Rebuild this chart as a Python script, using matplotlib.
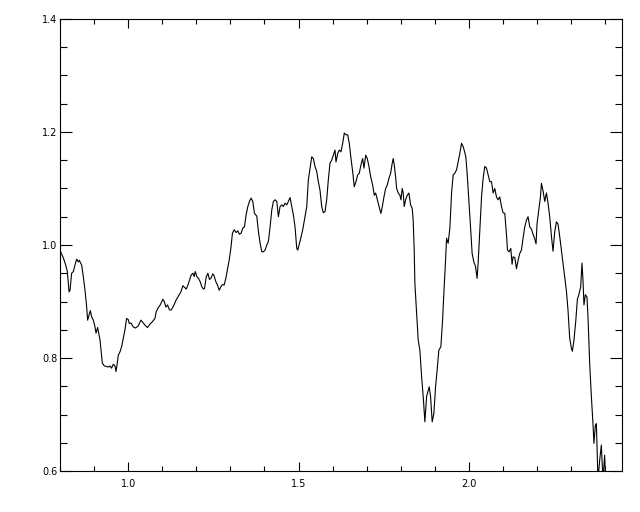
import matplotlib
matplotlib.use("Agg")
import matplotlib.pyplot as plt
from matplotlib.ticker import MultipleLocator

# spectrum
wavelength = [
    0.8000, 0.8094, 0.8161, 0.8211, 0.8261, 0.8290, 0.8337, 0.8387, 0.8437, 0.8484,
    0.8534, 0.8563, 0.8601, 0.8630, 0.8680, 0.8730, 0.8777, 0.8806, 0.8848, 0.8886,
    0.8924, 0.8974, 0.9023, 0.9053, 0.9100, 0.9141, 0.9170, 0.9199, 0.9238, 0.9296,
    0.9364, 0.9413, 0.9463, 0.9510, 0.9560, 0.9610, 0.9639, 0.9677, 0.9707, 0.9757,
    0.9804, 0.9853, 0.9903, 0.9950, 1.0000, 1.0029, 1.0079, 1.0147, 1.0214, 1.0293,
    1.0372, 1.0440, 1.0507, 1.0566, 1.0636, 1.0704, 1.0783,
    1.0821, 1.0889, 1.0938, 1.1018, 1.1056, 1.1106, 1.1153, 1.1211, 1.1261, 1.1328,
    1.1408, 1.1475, 1.1545, 1.1604, 1.1651, 1.1701, 1.1751, 1.1798, 1.1848, 1.1897,
    1.1935, 1.1965, 1.2015, 1.2062, 1.2111, 1.2161, 1.2208, 1.2238, 1.2287, 1.2337,
    1.2384, 1.2425, 1.2484, 1.2522, 1.2572, 1.2619, 1.2669, 1.2718, 1.2765, 1.2815,
    1.2865, 1.2912, 1.2962, 1.3012, 1.3059, 1.3109, 1.3167, 1.3217, 1.3264, 1.3314,
    1.3364, 1.3411, 1.3460, 1.3510, 1.3557, 1.3607, 1.3657, 1.3704, 1.3774, 1.3821,
    1.3871, 1.3921, 1.3968, 1.4018, 1.4067, 1.4114, 1.4164, 1.4214, 1.4261, 1.4311,
    1.4361, 1.4408, 1.4457, 1.4507, 1.4554, 1.4604, 1.4654, 1.4701, 1.4751, 1.4801,
    1.4848, 1.4897, 1.4947, 1.4977, 1.5015, 1.5065, 1.5123, 1.5191, 1.5241, 1.5287,
    1.5337, 1.5387, 1.5434, 1.5484, 1.5534, 1.5581, 1.5630, 1.5680, 1.5727, 1.5777,
    1.5827, 1.5874, 1.5924, 1.5974, 1.6021, 1.6070, 1.6100, 1.6150, 1.6197, 1.6246,
    1.6296, 1.6343, 1.6393, 1.6443, 1.6490, 1.6540, 1.6589, 1.6636, 1.6686, 1.6736,
    1.6783, 1.6833, 1.6883, 1.6921, 1.6971, 1.7018, 1.7067, 1.7117, 1.7176, 1.7223,
    1.7264, 1.7293, 1.7340, 1.7390, 1.7419, 1.7469, 1.7507, 1.7557, 1.7604, 1.7654,
    1.7704, 1.7751, 1.7780, 1.7809, 1.7850, 1.7880, 1.7927, 1.7977, 1.8006, 1.8044,
    1.8073, 1.8103, 1.8144, 1.8191, 1.8240, 1.8290, 1.8337, 1.8366, 1.8396, 1.8416,
    1.8466, 1.8513, 1.8563, 1.8613, 1.8660, 1.8710, 1.8760, 1.8807, 1.8836, 1.8877,
    1.8924, 1.8974, 1.9023, 1.9070, 1.9120, 1.9179, 1.9229, 1.9276, 1.9317, 1.9346,
    1.9393, 1.9443, 1.9493, 1.9540, 1.9589, 1.9639, 1.9686, 1.9736, 1.9786, 1.9833,
    1.9862, 1.9912, 1.9950, 2.0000, 2.0050, 2.0097, 2.0147, 2.0196, 2.0243, 2.0273,
    2.0323, 2.0373, 2.0420, 2.0469, 2.0519, 2.0566, 2.0616, 2.0666, 2.0713, 2.0762,
    2.0812, 2.0859, 2.0909, 2.0959, 2.1006, 2.1056, 2.1106, 2.1135, 2.1182, 2.1232,
    2.1270, 2.1299, 2.1349, 2.1399, 2.1446, 2.1496, 2.1545, 2.1592, 2.1642, 2.1692,
    2.1739, 2.1789, 2.1839, 2.1886, 2.1935, 2.1974, 2.2003, 2.2053, 2.2103, 2.2132,
    2.2179, 2.2229, 2.2279, 2.2326, 2.2375, 2.2425, 2.2472, 2.2522, 2.2572, 2.2619,
    2.2669, 2.2718, 2.2765, 2.2815, 2.2865, 2.2912, 2.2962, 2.3012, 2.3041, 2.3088,
    2.3138, 2.3188, 2.3235, 2.3284, 2.3323, 2.3352, 2.3381, 2.3422, 2.3469, 2.3499,
    2.3548, 2.3598, 2.3645, 2.3674, 2.3715, 2.3745, 2.3792, 2.3842, 2.3891, 2.3938,
    2.3988, 2.4018,
]
flux = [
    0.990, 0.977, 0.965, 0.953, 0.917, 0.920, 0.950, 0.953, 0.965, 0.975,
    0.970, 0.973, 0.968, 0.965, 0.944, 0.920, 0.891, 0.867, 0.876, 0.884,
    0.873, 0.867, 0.855, 0.844, 0.854, 0.841, 0.832, 0.814, 0.791, 0.786,
    0.785, 0.784, 0.786, 0.782, 0.789, 0.786, 0.776, 0.791, 0.805, 0.811,
    0.820, 0.835, 0.850, 0.870, 0.868, 0.861, 0.862, 0.855, 0.853, 0.857,
    0.867, 0.862, 0.857, 0.854, 0.860, 0.864, 0.870,
    0.882, 0.890, 0.894, 0.904, 0.900, 0.890, 0.894, 0.885, 0.885, 0.892,
    0.903, 0.910, 0.917, 0.928, 0.925, 0.922, 0.929, 0.938, 0.947, 0.950,
    0.944, 0.953, 0.944, 0.941, 0.935, 0.926, 0.922, 0.923, 0.943, 0.950,
    0.939, 0.941, 0.949, 0.945, 0.935, 0.929, 0.920, 0.926, 0.930, 0.929,
    0.941, 0.956, 0.973, 0.994, 1.021, 1.027, 1.022, 1.025, 1.019, 1.021,
    1.030, 1.032, 1.053, 1.068, 1.077, 1.083, 1.077, 1.056, 1.051, 1.024,
    1.003, 0.988, 0.988, 0.991, 1.000, 1.006, 1.032, 1.062, 1.077, 1.080,
    1.077, 1.050, 1.068, 1.071, 1.068, 1.074, 1.071, 1.077, 1.084, 1.068,
    1.053, 1.032, 0.994, 0.991, 1.000, 1.012, 1.027, 1.050, 1.068, 1.115,
    1.136, 1.156, 1.153, 1.139, 1.130, 1.112, 1.097, 1.068, 1.057, 1.059,
    1.080, 1.115, 1.145, 1.150, 1.159, 1.168, 1.147, 1.162, 1.168, 1.165,
    1.180, 1.198, 1.195, 1.195, 1.180, 1.153, 1.130, 1.103, 1.112, 1.124,
    1.127, 1.142, 1.153, 1.136, 1.159, 1.153, 1.139, 1.121, 1.106, 1.088,
    1.092, 1.085, 1.074, 1.062, 1.056, 1.071, 1.085, 1.100, 1.106, 1.118,
    1.127, 1.145, 1.153, 1.142, 1.121, 1.100, 1.092, 1.088, 1.080, 1.100,
    1.092, 1.068, 1.080, 1.088, 1.092, 1.071, 1.065, 1.044, 0.991, 0.932,
    0.879, 0.832, 0.814, 0.767, 0.732, 0.687, 0.732, 0.743, 0.749, 0.732,
    0.687, 0.702, 0.749, 0.779, 0.814, 0.820, 0.867, 0.926, 0.973, 1.012,
    1.003, 1.030, 1.092, 1.124, 1.127, 1.133, 1.147, 1.162, 1.180, 1.174,
    1.168, 1.156, 1.127, 1.080, 1.032, 0.985, 0.970, 0.962, 0.941, 0.968,
    1.027, 1.085, 1.118, 1.139, 1.136, 1.124, 1.112, 1.112, 1.092, 1.100,
    1.085, 1.080, 1.085, 1.068, 1.057, 1.056, 1.018, 0.991, 0.988, 0.994,
    0.966, 0.979, 0.978, 0.958, 0.973, 0.985, 0.991, 1.012, 1.032, 1.044,
    1.050, 1.032, 1.028, 1.019, 1.011, 1.002, 1.038, 1.062, 1.085, 1.109,
    1.096, 1.077, 1.092, 1.074, 1.050, 1.016, 0.989, 1.023, 1.041, 1.037,
    1.015, 0.991, 0.968, 0.944, 0.919, 0.885, 0.835, 0.817, 0.812, 0.832,
    0.864, 0.904, 0.913, 0.926, 0.968, 0.938, 0.894, 0.912, 0.908, 0.873,
    0.791, 0.732, 0.684, 0.649, 0.681, 0.684, 0.584, 0.619, 0.646, 0.584,
    0.628, 0.584,
]

x_range = (0.8, 2.45)
y_range = (0.6, 1.4)

fig = plt.figure(figsize=(6.4, 5.12), dpi=100)
ax = fig.add_axes([0.094, 0.080, 0.878, 0.883])

ax.plot(wavelength, flux, color="black", lw=0.8)

ax.set_xlim(*x_range)
ax.set_ylim(*y_range)
ax.xaxis.set_major_locator(MultipleLocator(0.5))
ax.xaxis.set_minor_locator(MultipleLocator(0.1))
ax.yaxis.set_major_locator(MultipleLocator(0.2))
ax.yaxis.set_minor_locator(MultipleLocator(0.05))
ax.xaxis.set_major_formatter(plt.FormatStrFormatter("%.1f"))
ax.yaxis.set_major_formatter(plt.FormatStrFormatter("%.1f"))

ax.tick_params(axis="both", which="both", direction="in", top=True, right=True,
               width=0.8, labelsize=7, colors="black")
ax.tick_params(axis="x", which="major", length=6.5, pad=6)
ax.tick_params(axis="x", which="minor", length=3.8)
ax.tick_params(axis="y", which="major", length=8.4, pad=2)
ax.tick_params(axis="y", which="minor", length=4.8)
for s in ax.spines.values():
    s.set_linewidth(0.8)

fig.savefig("out.png", dpi=100)
